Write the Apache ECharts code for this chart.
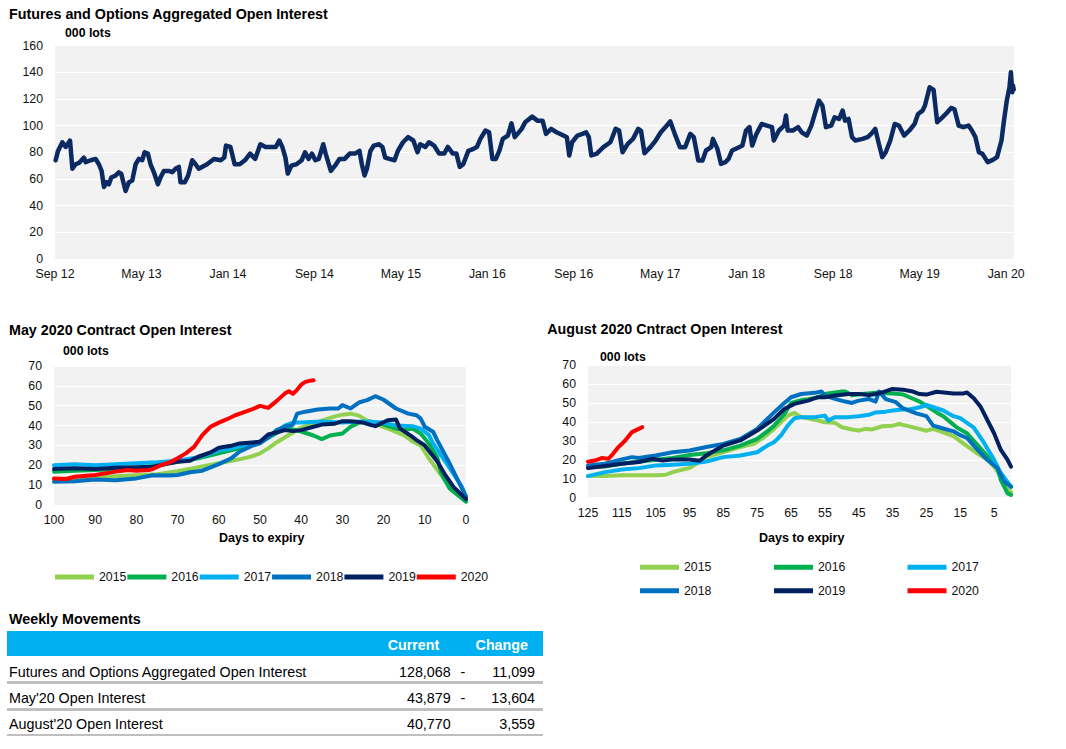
<!DOCTYPE html>
<html>
<head>
<meta charset="utf-8">
<script src="https://cdn.jsdelivr.net/npm/echarts@6/dist/echarts.min.js"></script>
<style>
html,body{margin:0;padding:0;background:#fff;}
#chart{position:absolute;left:0;top:0;width:1066px;height:749px;}
.t{position:absolute;font-family:'Liberation Sans',Arial,sans-serif;font-size:14.3px;color:#000;white-space:nowrap;height:18px;line-height:18px;}
.b{font-weight:bold;}
.r{text-align:right;}
.bar{position:absolute;background:#00b0f0;}
.sep{position:absolute;background:#bfbfbf;}
</style>
</head>
<body>
<div id="chart"></div>
<div id="table"></div>
<script>
// ---------- Top chart: aggregated open interest (000 lots), x = months since Sep 2012 ----------
const oiTickLabels = ['Sep 12','May 13','Jan 14','Sep 14','May 15','Jan 16','Sep 16','May 17','Jan 18','Sep 18','May 19','Jan 20'];
const oiMonths = [0.06,0.28,0.68,0.99,1.39,1.61,1.91,2.22,2.68,2.84,3.30,3.76,4.06,4.31,4.53,4.78,4.99,5.21,5.61,5.91,6.13,6.53,6.84,7.15,7.46,7.76,8.07,8.29,8.59,8.84,9.15,9.52,9.76,10.07,10.53,10.85,11.15,11.46,11.61,12.01,12.32,12.69,13.0,13.3,14.07,14.71,15.34,15.66,15.82,16.23,16.62,17.09,17.57,18.05,18.52,19.0,19.48,20.43,20.75,21.03,21.32,21.54,21.87,22.34,22.82,23.14,23.46,23.77,24.09,24.41,24.82,25.04,25.52,26.0,26.32,26.8,27.27,27.75,28.17,28.39,28.64,28.86,29.18,29.5,29.98,30.29,30.55,30.93,31.41,31.72,32.2,32.67,33.15,33.54,33.79,34.27,34.59,35.07,35.54,36.02,36.34,36.81,37.14,37.45,37.77,38.24,38.72,39.04,39.36,39.83,40.16,40.47,40.79,41.11,41.43,41.9,42.23,42.54,43.18,43.5,44.15,44.63,45.11,45.43,45.91,46.4,47.04,47.36,47.58,47.84,48.33,48.81,49.14,49.39,49.62,50.1,50.74,51.38,51.87,52.19,52.51,52.99,53.48,53.96,54.22,54.54,55.09,55.57,56.05,56.53,56.92,57.34,57.82,58.3,58.78,59.1,59.52,59.91,60.23,60.71,60.87,61.29,61.62,62.0,62.32,62.64,63.29,63.6,63.93,64.25,64.51,64.9,65.38,65.86,66.34,66.5,66.98,67.46,67.63,67.79,68.27,68.76,69.08,69.56,69.98,70.3,70.68,71.0,71.33,71.81,72.13,72.55,72.87,73.1,73.42,73.74,74.06,74.71,75.19,75.51,75.89,76.15,76.54,76.86,77.28,77.69,78.08,78.56,79.05,79.53,79.85,80.27,80.49,80.92,81.29,81.62,82.1,82.42,82.91,83.22,83.61,84.04,84.52,84.83,85.16,85.48,85.81,86.29,86.77,87.16,87.57,87.8,88.06,88.31,88.44,88.57,88.63,88.7];
const oiValues = [74,81,87.5,84,88.8,67.6,71,72,76,72.6,74,75,71,66,54,57.6,56,61,62.6,65,63.8,51,57.6,58.9,71,75,74,80,79,71,65,56,61,66,66,65,67.6,69,57.6,57.6,62.6,74,71,67.6,71,75,74,76,85,84,71,71,74,79,75,86,84,84,88.8,84,76,64,70,71,74,80,75,79,74,75,86,79,66,71,75,75,79,79,81,71,62.6,67.6,81,85,86,84,76,75,74,81,87.5,91.3,88.8,80,86,84,87.5,85,79,79,84,79,79,69,71,81,82.5,84,90,96.3,95,75,75,81,90,92.5,101.7,91.3,97.5,102.5,106.7,103.7,103.7,93.8,97.5,95,92.5,91.3,77.6,87.5,92.5,93.8,95,91.3,77.6,78.8,83.8,87.5,97.5,96.3,80,86.3,90,97.5,96,79.3,83.8,88.8,95,99.3,103.2,93.8,83.8,83.8,93.8,91.3,73.8,73.8,81.3,83.8,90,82.5,71.3,72.5,75,81.3,83.8,85,96.3,98.8,85,93.8,101.2,100,98.8,88.8,96.3,100,107.5,96.3,96.3,98.8,95,92.5,100,108.7,118.7,115,98.8,100,106.2,105,111.2,103.7,105,91.3,88.8,90,91.3,93.8,97.5,88.8,76.3,80,88.8,101.2,100,92.5,96.3,101.2,108.7,111.2,115,128.7,126.7,102.5,106.2,108.7,113.2,112.2,100,98.8,100,96.3,91.3,80,78.8,72.6,74.3,76.3,88.8,103.7,118.7,128.7,140,125,130,127];

// ---------- May 2020 contract: [days to expiry, 000 lots] ----------
const may2015 = [[100,13],[95,13.5],[90,14],[85,14.5],[80,15],[75,15.5],[70,17],[65,19],[60,21],[55,23],[52,24.5],[50,26],[48,28.5],[46,31.5],[44,34],[42,36.5],[40,39],[37,41],[35,42.5],[32,44.5],[30,45.5],[28,46],[26,45],[24,42.5],[21,40],[18,37.7],[15,35],[13,32],[11,30],[9,23.5],[6,15],[4,9],[0,2.5]];
const may2016 = [[100,16.8],[95,17.3],[90,17.6],[85,18],[80,18.5],[75,20],[70,21.8],[65,23.5],[60,26],[55,28.5],[50,31.5],[47,35],[45,37.5],[43,38.5],[40,37],[37,35],[35,33.2],[33,35],[30,36],[28,39.4],[26,41.5],[23,42],[20,40.5],[17,38.5],[15,37.7],[13,38.5],[11,36],[9,31],[7,24],[6,16],[4,8.4],[0,1.7]];
const may2017 = [[100,20],[95,20.5],[90,20],[85,20.5],[80,21],[75,21.5],[70,22.3],[65,24],[62,26],[60,27.5],[57,28.5],[55,29.5],[52,31],[50,32],[48,34],[46,37],[44,40],[42,41.5],[40,41.5],[35,42],[30,41.5],[25,42],[20,41.5],[17,40],[13,39.7],[11,38.5],[9,35.2],[8,31],[5,21.8],[1,9.2],[0,4.2]];
const may2018 = [[100,11.7],[95,12],[90,12.8],[85,12.5],[80,13.4],[76,15],[72,14.8],[70,15.1],[67,16.5],[64,17.3],[60,20.6],[57,23.5],[55,26.8],[52,29.8],[50,31],[48,34],[46,37.7],[44,39.4],[42,40.5],[41,46],[39,47],[36,48.1],[33,48.6],[31,48.6],[30,50.3],[28,48.6],[26,51.6],[24,52.8],[22,54.8],[20,53],[17,48.6],[14,46],[12,45.2],[11,43.5],[10,39.4],[8,36.9],[7,32.7],[4,21],[0,4.2]];
const may2019 = [[100,18.1],[95,18.5],[90,18.1],[85,18.8],[80,19],[76,19.3],[72,21],[70,21.8],[67,22.3],[65,24.3],[62,26.5],[60,28.8],[57,29.8],[55,31],[52,31.5],[50,31.8],[48,35.5],[46,36.5],[44,37.7],[42,37.2],[40,37.7],[37,39.4],[35,40.5],[32,40.9],[30,42.2],[28,42.2],[25,41.5],[23,40.2],[22,39.7],[19,42.7],[17,43],[16,38.5],[13,34.3],[12,32.7],[10,30],[7,22],[5,15],[3,9],[0,3]];
const may2020 = [[100,13.4],[97,13.1],[95,14.2],[90,15.1],[85,16.8],[82,17.6],[80,17.3],[77,17.6],[76,18.1],[74,20.1],[72,21.4],[70,23.5],[68,26],[66,29.3],[64,35.2],[62,39.4],[60,41.5],[58,43.2],[56,45.2],[54,46.6],[52,48.1],[50,49.9],[48,48.9],[46,52.3],[44,56.1],[43,57.3],[42,56],[41,58],[40,60.6],[39,62],[38,62.5],[37,62.8]];

// ---------- August 2020 contract: [days to expiry, 000 lots] ----------
const aug2015 = [[125,11.4],[120,11.4],[115,11.8],[110,11.8],[105,11.8],[102,12.1],[100,13.5],[97,14.9],[95,15.6],[93,17.9],[90,21.4],[85,24],[80,26.7],[76,28.4],[73,31.9],[70,36.3],[68,39.8],[66,43.3],[64,44.7],[62,42.5],[60,41.9],[57,40.7],[55,39.8],[52,39.5],[50,37.2],[47,36],[45,35.4],[43,36.3],[41,36],[38,37.7],[35,38],[33,38.9],[31,38],[28,36.7],[25,35.3],[23,36.3],[20,34.5],[17,32.5],[14,28.5],[10,23.4],[7,20],[5,16.4],[3,11.1],[1,4.9],[0,3]];
const aug2016 = [[125,16],[120,16.5],[115,18],[110,19],[105,20],[100,21],[95,22.5],[90,23.5],[85,25],[80,27.5],[75,31],[72,35],[70,38],[67,44],[65,50],[62,51.5],[60,52],[57,53],[55,54.7],[52,55.5],[50,56],[49,56],[47,54],[44,54.7],[40,55.3],[35,55],[32,54.5],[30,53],[27,50.7],[25,48.5],[22,45],[20,43],[18,40],[16,37],[13,34],[10,28],[7,22],[4,16],[3,9.3],[1,2.3],[0,1.5]];
const aug2017 = [[125,11.4],[120,13.5],[115,14.9],[110,15.6],[105,17],[100,17.4],[95,17.9],[90,19.1],[85,21.4],[80,22.3],[75,24],[72,27.5],[70,29.3],[68,32.8],[66,38],[64,41.9],[62,42.5],[58,42.5],[55,43.3],[54,40.7],[52,42.5],[48,42.5],[45,43],[42,43.7],[40,45],[37,45.4],[35,46],[32,46.5],[30,46.5],[27,47.7],[25,48.9],[22,47.2],[20,46],[17,43],[15,42],[13,39.5],[11,37],[8,29],[5,20],[3,13],[0,5.8]];
const aug2018 = [[125,17],[120,17.9],[115,20.2],[112,21.4],[110,20.9],[105,22.3],[100,24],[95,24.9],[90,26.7],[85,28.4],[80,31],[75,36.3],[72,41.6],[70,45],[67,50],[65,53],[62,54.7],[58,55.3],[56,56],[55,53.9],[52,52.1],[49,50.7],[47,50],[45,51.2],[42,52.1],[40,50.7],[39,56],[37,52],[34,50.4],[32,47.2],[28,44.5],[25,43],[23,38],[20,36.5],[17,35],[15,33],[13,31.5],[10,25.5],[7,20],[4,15.5],[2,8.5],[0,5.8]];
const aug2019 = [[125,15.6],[120,16.7],[115,17.9],[110,18.8],[106,20.5],[103,19.6],[100,20.2],[95,20.2],[92,19.5],[90,22.3],[85,27.5],[80,30.2],[75,35.4],[70,41.6],[67,46.8],[64,49.5],[60,51.2],[57,53],[55,53],[52,53.9],[48,54.7],[45,54.7],[42,54.2],[40,54.7],[38,55.6],[35,57.4],[32,57],[29,56],[27,54.7],[25,54.4],[22,55.9],[17,55],[14,55],[13,55.5],[11,52.4],[9,48],[7,41],[5,34],[3,25.2],[1,19.9],[0,16.4]];
const aug2020 = [[125,19],[123,19.6],[121,20.9],[119,20.5],[118,22.3],[116,26.7],[114,30.2],[112,34.6],[110,36.3],[109,37.2]];

const yearNames = ['2015','2016','2017','2018','2019','2020'];
const yearColors = ['#92d050','#00b050','#00b0f0','#0070c0','#002060','#ff0000'];
const mayData = [may2015,may2016,may2017,may2018,may2019,may2020];
const augData = [aug2015,aug2016,aug2017,aug2018,aug2019,aug2020];

// ---------- Weekly movements table ----------
const tableHeader = ['Current','Change'];
const tableRows = ['Futures and Options Aggregated Open Interest',"May'20 Open Interest","August'20 Open Interest"];
const tableCurrent = ['128,068','43,879','40,770'];
const tableSign = ['-','-',''];
const tableChange = ['11,099','13,604','3,559'];

// ---------- build ----------
const FONT = "'Liberation Sans', Arial, sans-serif";
const mayCats = []; for (let d = 100; d >= 0; d--) mayCats.push(String(d));
const augCats = []; for (let d = 125; d >= 0; d--) augCats.push(String(d));

const labelStyle = {fontFamily: FONT, fontSize: 12.3, color: '#111'};
const gridCommon = {show: true, backgroundColor: '#f2f2f2', borderWidth: 0, containLabel: false};
const splitWhite = {show: true, lineStyle: {color: '#ffffff', width: 1}};
function yAx(gi, max, interval) {
  return {gridIndex: gi, type: 'value', min: 0, max: max, interval: interval,
    axisLine: {show: false}, axisTick: {show: false}, splitLine: splitWhite,
    axisLabel: Object.assign({margin: 12}, labelStyle)};
}
const series = [{
  type: 'line', name: 'OI', xAxisIndex: 0, yAxisIndex: 0, symbol: 'none',
  data: oiMonths.map((m, i) => [m, oiValues[i]]),
  lineStyle: {color: '#0b2a62', width: 4.5, join: 'round', cap: 'round'}, color: '#0b2a62'
}];
yearNames.forEach((n, i) => {
  series.push({type: 'line', name: n, xAxisIndex: 1, yAxisIndex: 1, symbol: 'none', color: yearColors[i],
    data: mayData[i].map(p => [mayCats.indexOf(String(p[0])), p[1]]),
    lineStyle: {color: yearColors[i], width: 4, join: 'round', cap: 'round'}});
});
yearNames.forEach((n, i) => {
  series.push({type: 'line', name: n, xAxisIndex: 2, yAxisIndex: 2, symbol: 'none', color: yearColors[i],
    data: augData[i].map(p => [augCats.indexOf(String(p[0])), p[1]]),
    lineStyle: {color: yearColors[i], width: 4, join: 'round', cap: 'round'}});
});

const legendText = {fontFamily: FONT, fontSize: 12.3, color: '#111', lineHeight: 14};
const legendBase = {icon: 'rect', itemWidth: 39, itemHeight: 5, selectedMode: false, padding: 0, textStyle: legendText};

function txt(text, x, y, size, bold, align) {
  return {type: 'text', style: {text: text, x: x, y: y, fill: '#000',
    font: (bold ? 'bold ' : '') + size + 'px ' + FONT, textAlign: align || 'left', verticalAlign: 'middle'}};
}

const option = {
  animation: false,
  textStyle: {fontFamily: FONT},
  grid: [
    Object.assign({left: 55, top: 45.5, width: 958.7, height: 213.5}, gridCommon),
    Object.assign({left: 54, top: 366, width: 412, height: 139}, gridCommon),
    Object.assign({left: 588, top: 365, width: 423, height: 132.7}, gridCommon)
  ],
  xAxis: [
    {gridIndex: 0, type: 'value', min: 0, max: 88.7, interval: 8,
      axisLine: {show: false}, axisTick: {show: false}, splitLine: {show: false},
      axisLabel: Object.assign({margin: 9, showMaxLabel: false,
        formatter: v => oiTickLabels[Math.round(v / 8)] || ''}, labelStyle)},
    {gridIndex: 1, type: 'category', boundaryGap: false, data: mayCats,
      axisLine: {show: false}, axisTick: {show: false}, splitLine: {show: false},
      axisLabel: Object.assign({margin: 9, interval: 9}, labelStyle)},
    {gridIndex: 2, type: 'category', boundaryGap: false, data: augCats,
      axisLine: {show: false}, axisTick: {show: false}, splitLine: {show: false},
      axisLabel: Object.assign({margin: 9, interval: 9}, labelStyle)}
  ],
  yAxis: [yAx(0, 160, 20), yAx(1, 70, 10), yAx(2, 70, 10)],
  legend: [
    Object.assign({orient: 'horizontal', left: 55, top: 570, itemGap: 1, data: yearNames}, legendBase),
    Object.assign({orient: 'vertical', left: 640, top: 560.3, itemGap: 9.4, data: ['2015','2018']}, legendBase),
    Object.assign({orient: 'vertical', left: 774, top: 560.3, itemGap: 9.4, data: ['2016','2019']}, legendBase),
    Object.assign({orient: 'vertical', left: 907.5, top: 560.3, itemGap: 9.4, data: ['2017','2020']}, legendBase)
  ],
  graphic: [
    txt('Futures and Options Aggregated Open Interest', 9, 13.5, 14.3, true),
    txt('000 lots', 65, 32.7, 12.3, true),
    txt('May 2020 Contract Open Interest', 9, 330, 14.3, true),
    txt('000 lots', 63, 350.7, 12.3, true),
    txt('Days to expiry', 261.7, 537.7, 12.5, true, 'center'),
    txt('August 2020 Cntract Open Interest', 547.3, 329.4, 14.3, true),
    txt('000 lots', 600, 356.7, 12.3, true),
    txt('Days to expiry', 801.7, 538, 12.5, true, 'center')
  ],
  series: series
};

const chart = echarts.init(document.getElementById('chart'), null, {renderer: 'svg', width: 1066, height: 749});
chart.setOption(option);

// table
const tb = document.getElementById('table');
function addDiv(cls, style, text) {
  const d = document.createElement('div');
  d.className = cls;
  Object.assign(d.style, style);
  if (text !== undefined) d.textContent = text;
  tb.appendChild(d);
}
addDiv('t b', {left: '9px', top: (619 - 9) + 'px'}, 'Weekly Movements');
addDiv('bar', {left: '6.5px', top: '630.7px', width: '536.2px', height: '25.3px'});
addDiv('t b r', {left: '339px', width: '100.3px', top: (645 - 9) + 'px', color: '#fff'}, tableHeader[0]);
addDiv('t b r', {left: '448px', width: '80px', top: (645 - 9) + 'px', color: '#fff'}, tableHeader[1]);
const rowY = [671.7, 698.3, 724];
const sepY = [682.7, 709.3, 735];
tableRows.forEach((name, i) => {
  addDiv('t', {left: '9px', top: (rowY[i] - 9) + 'px'}, name);
  addDiv('t r', {left: '350px', width: '100.7px', top: (rowY[i] - 9) + 'px'}, tableCurrent[i]);
  addDiv('t', {left: '460.5px', top: (rowY[i] - 9) + 'px'}, tableSign[i]);
  addDiv('t r', {left: '455px', width: '80px', top: (rowY[i] - 9) + 'px'}, tableChange[i]);
  addDiv('sep', {left: '6.5px', top: (sepY[i] - 1.25) + 'px', width: '536.2px', height: '2.5px'});
});
</script>
</body>
</html>
